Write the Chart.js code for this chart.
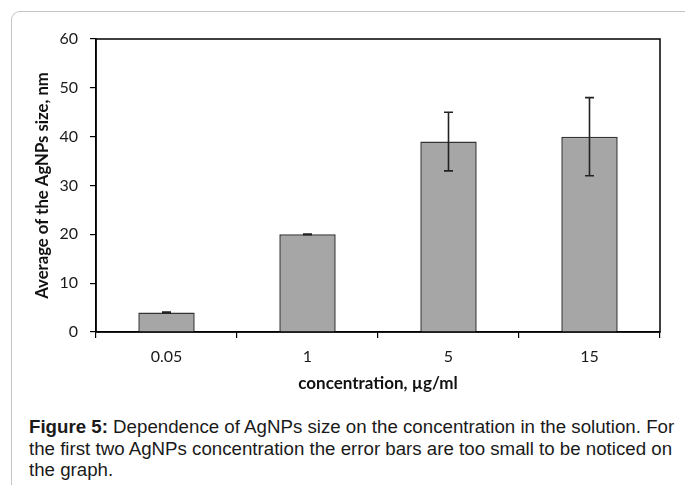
<!DOCTYPE html>
<html>
<head>
<meta charset="utf-8">
<script src="https://cdn.jsdelivr.net/npm/chart.js@4"></script>
<style>
  html, body { margin: 0; padding: 0; background: #fff; width: 685px; height: 485px; overflow: hidden; }
  #frame { position: absolute; left: 11px; top: 11px; width: 720px; height: 520px;
           border-left: 1.5px solid #c4c4c4; border-top: 1.5px solid #c4c4c4; border-top-left-radius: 9px; }
  #c { position: absolute; left: 0; top: 0; }
  #caption { position: absolute; left: 29px; top: 417px; font-family: "Liberation Sans", Arial, sans-serif;
             font-size: 17.5px; line-height: 21.5px; color: #1a1a1a; white-space: nowrap;
             transform: scaleX(1.068); transform-origin: 0 0; }
</style>
</head>
<body>
<div id="frame"></div>
<canvas id="c" width="685" height="400"></canvas>
<div id="caption"><b>Figure 5:</b> Dependence of AgNPs size on the concentration in the solution. For<br>the first two AgNPs concentration the error bars are too small to be noticed on<br>the graph.</div>
<script>
const categories = ['0.05', '1', '5', '15'];
const sizes = [4, 20, 39, 40];
const errors = [0.08, 0.08, 6, 8];
const yTicks = [0, 10, 20, 30, 40, 50, 60];
const xTitle = 'concentration, µg/ml';
const yTitle = 'Average of the AgNPs size, nm';

const errorBars = {
  id: 'errorBars',
  afterDatasetsDraw(chart) {
    const ctx = chart.ctx;
    const meta = chart.getDatasetMeta(0);
    const ys = chart.scales.y;
    ctx.save();
    ctx.strokeStyle = '#222';
    ctx.lineWidth = 1.6;
    meta.data.forEach((bar, i) => {
      const x = bar.x;
      const top = ys.getPixelForValue(sizes[i] + errors[i]);
      const bot = ys.getPixelForValue(sizes[i] - errors[i]);
      ctx.beginPath();
      ctx.moveTo(x, top); ctx.lineTo(x, bot);
      ctx.moveTo(x - 4.5, top); ctx.lineTo(x + 4.5, top);
      ctx.moveTo(x - 4.5, bot); ctx.lineTo(x + 4.5, bot);
      ctx.stroke();
    });
    ctx.restore();
  },
  beforeDatasetsDraw(chart) {
    const {ctx, chartArea: a} = chart;
    ctx.save();
    ctx.strokeStyle = '#000';
    ctx.lineWidth = 1.5;
    ctx.strokeRect(a.left, a.top, a.right - a.left, a.bottom - a.top);
    ctx.restore();
  }
};

new Chart(document.getElementById('c'), {
  type: 'bar',
  data: {
    labels: categories,
    datasets: [{
      data: sizes,
      backgroundColor: '#a6a6a6',
      borderColor: '#333333',
      borderWidth: 1.5,
      categoryPercentage: 1,
      barPercentage: 0.4
    }]
  },
  options: {
    responsive: false,
    maintainAspectRatio: false,
    animation: false,
    devicePixelRatio: 1,
    layout: { padding: { left: 0, right: 25, top: 39, bottom: 0 } },
    plugins: { legend: { display: false }, tooltip: { enabled: false } },
    scales: {
      x: {
        grid: { display: true, drawOnChartArea: false, drawTicks: true, tickLength: 6, color: '#000', lineWidth: 1.2, offset: true },
        border: { display: true, color: '#000', width: 1.5 },
        ticks: { color: '#1a1a1a', font: { family: 'Lato', size: 16 }, padding: 9, maxRotation: 0 },
        title: { display: true, text: xTitle, color: '#111', font: { family: 'Lato', size: 17, weight: 'bold' }, padding: { top: 6, bottom: 6 } },
        afterFit(scale) { scale.height = 68; }
      },
      y: {
        min: 0, max: 60,
        afterBuildTicks(scale) { scale.ticks = yTicks.map(v => ({ value: v })); },
        grid: { display: true, drawOnChartArea: false, drawTicks: true, tickLength: 6, color: '#000', lineWidth: 1.2 },
        border: { display: true, color: '#000', width: 1.5 },
        ticks: { color: '#1a1a1a', font: { family: 'Lato', size: 16 }, padding: 12 },
        title: { display: true, text: yTitle, color: '#111', font: { family: 'Lato', size: 16.7, weight: 'bold' }, padding: { top: 33, bottom: 33 } },
        afterFit(scale) { scale.width = 96; }
      }
    }
  },
  plugins: [errorBars]
});
</script>
</body>
</html>
